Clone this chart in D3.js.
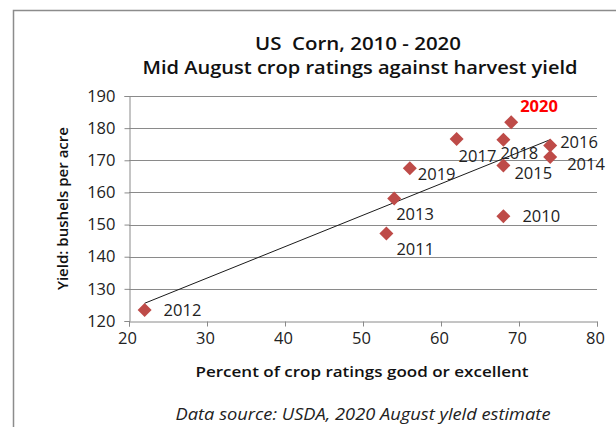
<!DOCTYPE html>
<html><head><meta charset="utf-8">
<script src="https://cdn.jsdelivr.net/npm/d3@7"></script>
<style>
html,body{margin:0;padding:0;background:#fff;}
svg{display:block;font-family:"Open Sans",sans-serif;}
</style></head>
<body><svg id="c" width="616" height="427"></svg>
<script>
// ---- data ----
const years   = ["2010","2011","2012","2013","2014","2015","2016","2017","2018","2019","2020"];
const ratings = [68, 53, 22, 54, 74, 68, 74, 62, 68, 56, 69];
const yields  = [152.6, 147.2, 123.4, 158.1, 171.0, 168.4, 174.6, 176.6, 176.4, 167.5, 181.8];
const xTicks  = [20, 30, 40, 50, 60, 70, 80];
const yTicks  = [120, 130, 140, 150, 160, 170, 180, 190];
const highlightYear = "2020";

// ---- layout (label placement in px, not data) ----
const labelOffset = {
  "2010":[19,0], "2011":[10,15], "2012":[19,0], "2013":[2,15.5], "2014":[17,7],
  "2015":[11,8], "2016":[10,-3.5], "2017":[2,16.5], "2018":[-3,13], "2019":[8,6], "2020":[9,-16]
};

const svg = d3.select("#c");
const M = {left:129, right:597, top:96, bottom:321};
const x = d3.scaleLinear().domain([20,80]).range([M.left, M.right]);
const y = d3.scaleLinear().domain([120,190]).range([M.bottom, M.top]);

// outer frame
svg.append("rect").attr("x",13.5).attr("y",10.5).attr("width",640).attr("height",440)
  .attr("fill","none").attr("stroke","#8c8c8c").attr("stroke-width",1.5);

// gridlines
svg.append("g").selectAll("line").data(yTicks.slice(1)).join("line")
  .attr("x1",M.left).attr("x2",M.right)
  .attr("y1",d=>Math.round(y(d))+0.5).attr("y2",d=>Math.round(y(d))+0.5)
  .attr("stroke","#8a8a8a").attr("stroke-width",1);

// axes
const yAxis = svg.append("g").attr("transform",`translate(${M.left+0.5},0)`)
  .call(d3.axisLeft(y).tickValues(yTicks).tickSize(5).tickPadding(9).tickFormat(d3.format("d")));
const xAxis = svg.append("g").attr("transform",`translate(0,${Math.round(y(120))+0.5})`)
  .call(d3.axisBottom(x).tickValues(xTicks).tickSize(5).tickPadding(6).tickFormat(d3.format("d")));
[yAxis,xAxis].forEach(g=>{
  g.select(".domain").attr("stroke","#8a8a8a");
  g.selectAll(".tick line").attr("stroke","#8a8a8a");
  g.selectAll(".tick text").attr("fill","#222").style("font-size","16.5px").style("font-family","Open Sans");
});
xAxis.selectAll(".tick text").attr("dx","-2");

// trendline (least squares through the points, drawn across data range)
const n = ratings.length;
const mx = d3.mean(ratings), my = d3.mean(yields);
let sxy=0, sxx=0;
for(let i=0;i<n;i++){ sxy+=(ratings[i]-mx)*(yields[i]-my); sxx+=(ratings[i]-mx)**2; }
const slope = sxy/sxx, icpt = my - slope*mx;
const [xmin,xmax] = d3.extent(ratings);
svg.append("line")
  .attr("x1",x(xmin)).attr("y1",y(icpt+slope*xmin))
  .attr("x2",x(xmax)).attr("y2",y(icpt+slope*xmax))
  .attr("stroke","#1a1a1a").attr("stroke-width",1);

// points
const pts = years.map((yr,i)=>({yr, r:ratings[i], v:yields[i]}));
const sym = d3.symbol().type(d3.symbolSquare).size(98);
svg.append("g").selectAll("path").data(pts).join("path")
  .attr("d",sym)
  .attr("transform",d=>`translate(${x(d.r)},${y(d.v)}) rotate(45)`)
  .attr("fill","#be4b48");

// labels
svg.append("g").selectAll("text").data(pts).join("text")
  .attr("x",d=>x(d.r)+labelOffset[d.yr][0])
  .attr("y",d=>y(d.v)+labelOffset[d.yr][1])
  .attr("dy","0.36em")
  .attr("fill",d=>d.yr===highlightYear?"#ff0000":"#222")
  .style("font-weight",d=>d.yr===highlightYear?"700":"400")
  .style("font-size","16.5px")
  .text(d=>d.yr);

// titles
svg.append("text").attr("x",358).attr("y",50).attr("text-anchor","middle")
  .attr("xml:space","preserve")
  .attr("textLength",206).attr("lengthAdjust","spacingAndGlyphs")
  .style("font-size","18.5px").style("font-weight","600").attr("fill","#111")
  .text("US  Corn, 2010 - 2020");
svg.append("text").attr("x",360).attr("y",74).attr("text-anchor","middle")
  .attr("textLength",435).attr("lengthAdjust","spacingAndGlyphs")
  .style("font-size","18.5px").style("font-weight","600").attr("fill","#111")
  .text("Mid August crop ratings against harvest yield");

svg.append("text").attr("transform",`translate(68,${(M.top+M.bottom)/2}) rotate(-90)`)
  .attr("text-anchor","middle")
  .attr("textLength",163).attr("lengthAdjust","spacingAndGlyphs")
  .style("font-size","14.5px").style("font-weight","600").attr("fill","#111")
  .text("Yield: bushels per acre");

svg.append("text").attr("x",362).attr("y",377).attr("text-anchor","middle")
  .attr("textLength",333).attr("lengthAdjust","spacingAndGlyphs")
  .style("font-size","15px").style("font-weight","600").attr("fill","#111")
  .text("Percent of crop ratings good or excellent");

svg.append("text").attr("x",363).attr("y",420).attr("text-anchor","middle")
  .attr("textLength",375).attr("lengthAdjust","spacingAndGlyphs")
  .style("font-size","15.5px").style("font-style","italic").attr("fill","#222")
  .text("Data source: USDA, 2020 August yleld estimate");
</script></body></html>
